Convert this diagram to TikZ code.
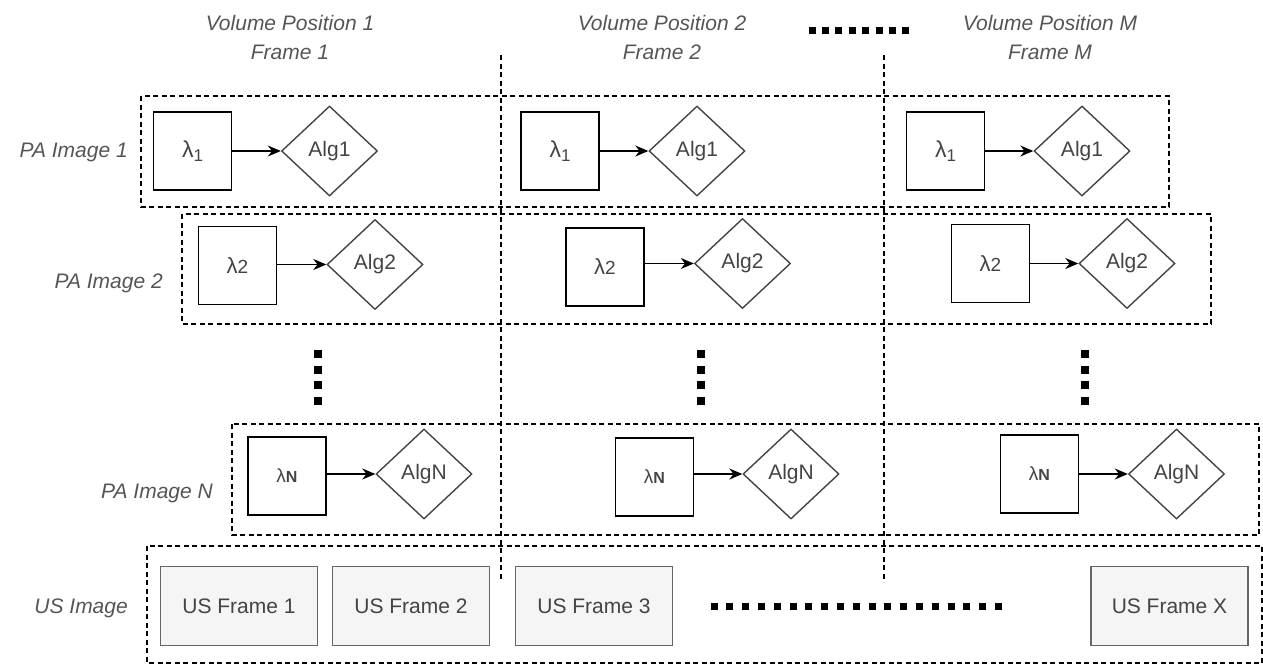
\documentclass[tikz,border=0pt]{standalone}
\usepackage{fontspec}
\setmainfont{Liberation Sans}
\usetikzlibrary{shapes.geometric,arrows.meta}
\definecolor{txt}{HTML}{444444}
\definecolor{lbltxt}{HTML}{555555}
\definecolor{usfill}{HTML}{F5F5F5}
\definecolor{usline}{HTML}{666666}
\newcommand{\lamone}[1]{{\fontsize{23}{23}\selectfont λ\raisebox{-4pt}{\fontsize{17}{17}\selectfont #1}}}
\newcommand{\lamtwo}[1]{{\fontsize{22}{22}\selectfont λ{\fontsize{19}{19}\selectfont #1}}}
\newcommand{\lamN}[1]{{\fontsize{19}{19}\selectfont λ{\fontsize{16}{16}\selectfont\bfseries #1}}}
\begin{document}
\begin{tikzpicture}[x=1pt,y=-1pt,
  lam/.style={draw=black,line width=1.8pt,minimum size=78pt,inner sep=0pt,text=txt},
  alg/.style={diamond,draw=txt,line width=1.4pt,minimum width=96pt,minimum height=90pt,inner sep=0pt,text=txt,font=\fontsize{21}{21}\selectfont},
  grp/.style={draw=black,line width=1.4pt,dash pattern=on 5pt off 3.5pt},
  lbl/.style={text=lbltxt,font=\fontsize{21}{29}\selectfont\itshape,align=center,inner sep=0pt},
  usf/.style={draw=usline,fill=usfill,line width=1.5pt,minimum width=157pt,minimum height=79pt,inner sep=0pt,text=txt,font=\fontsize{21}{21}\selectfont},
  flow/.style={draw=black,line width=1.5pt,-{Stealth[length=13pt,width=11pt]}}
]
\useasboundingbox (0,0) rectangle (1263,665);

% group boxes
\draw[grp] (141,96) rectangle (1169,207);
\draw[grp] (182,214) rectangle (1211,324);
\draw[grp] (232,424) rectangle (1259,535);
\draw[grp] (147,546) rectangle (1262,663);

% column separators
\coordinate (v1t) at (501,55); \coordinate (v1b) at (501,580);
\coordinate (v2t) at (884,55); \coordinate (v2b) at (884,582);
\draw[grp] (v1t) -- (v1b);
\draw[grp] (v2t) -- (v2b);

% column headers
\node[lbl] (h1) at (290,37) {Volume Position 1\\Frame 1};
\node[lbl] (h2) at (662,37) {Volume Position 2\\Frame 2};
\node[lbl] (h3) at (1050,37) {Volume Position M\\Frame M};

% row labels
\node[lbl,anchor=base east] (r1) at (128,157.5) {PA Image 1};
\node[lbl,anchor=base east] (r2) at (163,288) {PA Image 2};
\node[lbl,anchor=base east] (rN) at (213,498) {PA Image N};
\node[lbl,anchor=base east] (rU) at (128,613.5) {US Image};

% row 1
\node[lam] (s11) at (192.5,151) {\lamone{1}};
\node[alg] (d11) at (329.5,151) {Alg1};
\node[lam] (s12) at (560,151) {\lamone{1}};
\node[alg] (d12) at (697,151) {Alg1};
\node[lam] (s13) at (945.5,151) {\lamone{1}};
\node[alg] (d13) at (1082,151) {Alg1};
% row 2
\node[lam] (s21) at (237.5,265.5) {\lamtwo{2}};
\node[alg] (d21) at (375,264.5) {Alg2};
\node[lam] (s22) at (605,267) {\lamtwo{2}};
\node[alg] (d22) at (742.5,263.5) {Alg2};
\node[lam] (s23) at (990.5,263.5) {\lamtwo{2}};
\node[alg] (d23) at (1127,263.5) {Alg2};
% row N
\node[lam] (s31) at (287,476) {\lamN{N}};
\node[alg] (d31) at (424,474) {AlgN};
\node[lam] (s32) at (654.5,477) {\lamN{N}};
\node[alg] (d32) at (791,474) {AlgN};
\node[lam] (s33) at (1039.5,474) {\lamN{N}};
\node[alg] (d33) at (1176.5,474) {AlgN};

\foreach \r in {1,2,3}{\foreach \c in {1,2,3}{
  \draw[flow] (s\r\c.east |- d\r\c.west) -- (d\r\c.west);
}}

% US frames
\node[usf] (u1) at (239,606) {US Frame 1};
\node[usf] (u2) at (411,606) {US Frame 2};
\node[usf] (u3) at (594,606) {US Frame 3};
\node[usf] (uX) at (1169.5,606) {US Frame X};

% ellipsis dots
\foreach \i in {0,...,7}{\fill (812+13.4*\i-3.5,30-3.5) rectangle ++(7,7);}
\foreach \x in {318,701,1085}{\foreach \i in {0,...,3}{\fill (\x-4,354+15.7*\i-4) rectangle ++(8,8);}}
\foreach \i in {0,...,18}{\fill (714+15.8*\i-3.5,606-3.5) rectangle ++(7,7);}
\end{tikzpicture}
\end{document}
